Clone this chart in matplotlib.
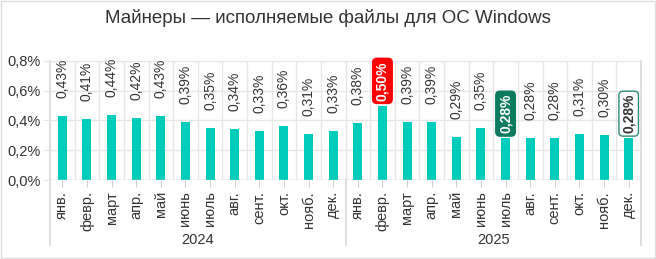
import matplotlib.pyplot as plt
from matplotlib.patches import Rectangle
from matplotlib.transforms import blended_transform_factory

plt.rcParams["font.family"] = ["Liberation Sans", "DejaVu Sans"]

MONTHS = ["янв.", "февр.", "март", "апр.", "май", "июнь", "июль", "авг.",
          "сент.", "окт.", "нояб.", "дек."]
YEARS = ["2024", "2025"]
VALUES = [0.43, 0.41, 0.44, 0.42, 0.43, 0.39, 0.35, 0.34, 0.33, 0.36, 0.31, 0.33,
          0.38, 0.50, 0.39, 0.39, 0.29, 0.35, 0.28, 0.28, 0.28, 0.31, 0.30, 0.28]
LABELS = ["0,43%", "0,41%", "0,44%", "0,42%", "0,43%", "0,39%", "0,35%", "0,34%",
          "0,33%", "0,36%", "0,31%", "0,33%", "0,38%", "0,50%", "0,39%", "0,39%",
          "0,29%", "0,35%", "0,28%", "0,28%", "0,28%", "0,31%", "0,30%", "0,28%"]
YTICKS = [0.0, 0.2, 0.4, 0.6, 0.8]
YTICK_LABELS = ["0,0%", "0,2%", "0,4%", "0,6%", "0,8%"]
# index -> (box face, box edge, text colour)
HIGHLIGHT = {13: ("#ff0000", "#ff0000", "white"),
             18: ("#0b7a5f", "#0b7a5f", "white"),
             23: ("white", "#2e8b78", "#333333")}

BAR = "#00ccbb"
GRID = "#e6e6e6"
TEXT = "#333333"

fig = plt.figure(figsize=(6.56, 2.59), dpi=100)
fig.patch.set_facecolor("white")
fig.add_artist(Rectangle((0.001, 0.002), 0.997, 0.995, transform=fig.transFigure,
                         fill=False, edgecolor="#dddddd", linewidth=1))

ax = fig.add_axes([50 / 656, 1 - 180 / 259, 591 / 656, 119 / 259])
n = len(VALUES)
xs = list(range(n))
ax.bar(xs, VALUES, width=0.37, color=BAR, zorder=3)
ax.set_xlim(-0.5, n - 0.5)
ax.set_ylim(0, 0.8)

for s in ax.spines.values():
    s.set_visible(False)
ax.set_yticks(YTICKS)
ax.set_yticklabels(YTICK_LABELS, fontsize=10.5, color=TEXT)
ax.tick_params(axis="y", length=5, color=GRID, pad=2)
ax.yaxis.grid(True, color=GRID, linewidth=1, zorder=0)
for b in range(1, n):
    ax.axvline(b - 0.5, color=GRID, linewidth=1, zorder=0)
ax.axhline(0, color="#d0d0d0", linewidth=1, zorder=4)

ax.set_xticks(xs)
ax.set_xticklabels(MONTHS * len(YEARS), rotation=90, fontsize=10.5, color=TEXT)
ax.tick_params(axis="x", length=5, color="#d0d0d0", pad=3)

# year group separators and labels
trans = blended_transform_factory(ax.transData, ax.transAxes)
for gx in [-0.5, 11.5, 23.5]:
    ax.plot([gx, gx], [1.0 if gx != 11.5 else 0.0, -0.55], transform=trans,
            color="#d8d8d8", linewidth=1.2, clip_on=False, zorder=1)
for i, year in enumerate(YEARS):
    ax.text(i * 12 + 5.5, -0.5, year, transform=trans, ha="center", va="center",
            fontsize=10.5, color=TEXT)

# value labels
for i, (v, lab) in enumerate(zip(VALUES, LABELS)):
    if i in HIGHLIGHT:
        face, edge, col = HIGHLIGHT[i]
        ax.annotate(lab, (i, v), xytext=(0, 5), textcoords="offset pixels",
                    rotation=90, ha="center", va="bottom", fontsize=10,
                    fontweight="bold", color=col, zorder=5,
                    bbox=dict(boxstyle="round,pad=0.2,rounding_size=0.3",
                              facecolor=face, edgecolor=edge, linewidth=1))
    else:
        ax.annotate(lab, (i, v), xytext=(0, 18), textcoords="offset pixels",
                    rotation=90, ha="center", va="bottom", fontsize=10,
                    color=TEXT, zorder=5)

fig.text(0.5, 1 - 18 / 259, "Майнеры — исполняемые файлы для ОС Windows",
         ha="center", va="center", fontsize=13.5, color=TEXT)

fig.savefig("out.png", dpi=100)
